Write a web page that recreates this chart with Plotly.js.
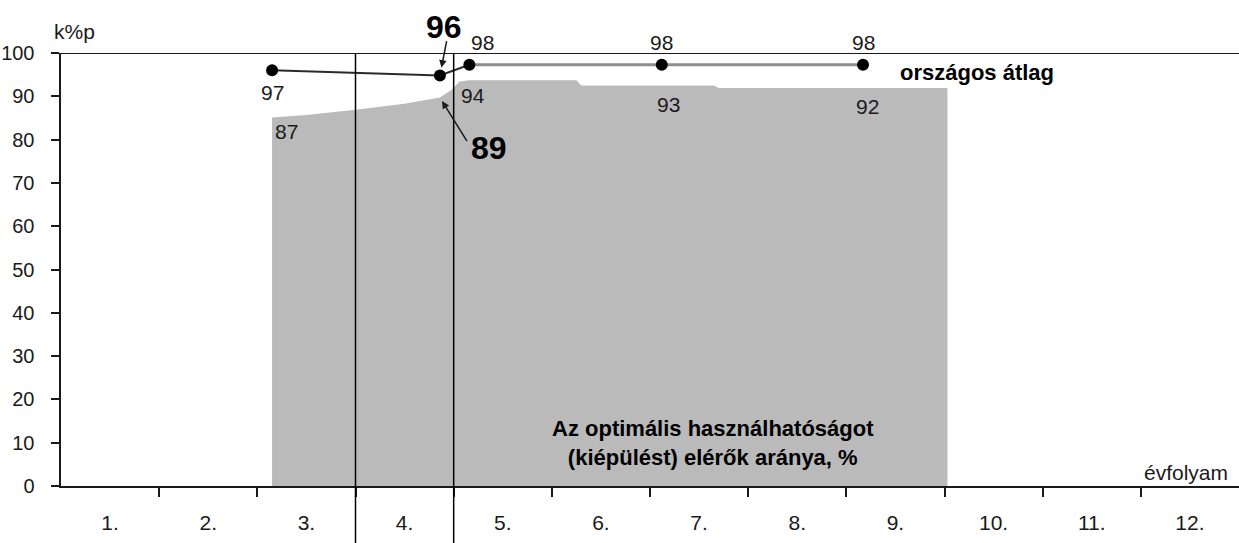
<!DOCTYPE html>
<html>
<head>
<meta charset="utf-8">
<script src="https://cdn.plot.ly/plotly-3.0.1.min.js"></script>
<style>
html,body{margin:0;padding:0;background:#fff;}
#chart{width:1239px;height:543px;}
</style>
</head>
<body>
<div id="chart"></div>
<script>
// ---- data ----
var gradeValues = [1,2,3,4,5,6,7,8,9,10,11,12];
var gradeLabels = ['1.','2.','3.','4.','5.','6.','7.','8.','9.','10.','11.','12.'];
var yTickValues = [0,10,20,30,40,50,60,70,80,90,100];

// share reaching optimal usability (grey area)
var areaX = [2.65, 3.0, 3.5, 4.0, 4.36, 4.48, 4.56, 4.66, 5.75, 5.8, 7.15, 7.2, 9.53];
var areaY = [85.1, 85.7, 86.9, 88.3, 89.7, 91.5, 93.4, 93.7, 93.7, 92.5, 92.5, 91.9, 91.9];
var areaLabelX = [2.80, 4.70, 6.69, 8.72];
var areaLabelText = ['87', '94', '93', '92'];

// national average (markers)
var avgX = [2.65, 4.36, 4.66, 6.62, 8.67];
var avgY = [96.0, 94.8, 97.3, 97.3, 97.3];
var avgLabels = ['97', '96', '98', '98', '98'];

var highlightLabel = '89';
var dividers = [3.5, 4.5];

// ---- styles ----
var SANS = '"Liberation Sans", Arial, sans-serif';
var INK = '#1a1a1a';

var traces = [
  {
    type: 'scatter', mode: 'lines', x: areaX, y: areaY,
    fill: 'tozeroy', fillcolor: '#bababa',
    line: {width: 0, color: '#bababa'}, hoverinfo: 'skip', showlegend: false
  },
  {
    type: 'scatter', mode: 'lines', x: avgX.slice(0,3), y: avgY.slice(0,3),
    line: {color: '#2a2a2a', width: 2}, hoverinfo: 'skip', showlegend: false
  },
  {
    type: 'scatter', mode: 'lines', x: avgX.slice(2), y: avgY.slice(2),
    line: {color: '#8e8e8e', width: 3}, hoverinfo: 'skip', showlegend: false
  },
  {
    type: 'scatter', mode: 'markers', x: avgX, y: avgY,
    marker: {color: '#000', size: 12}, hoverinfo: 'skip', showlegend: false
  }
];

var annotations = [];
// avg labels
avgLabels.forEach(function(t, i){
  if (i === 1) {
    annotations.push({
      x: avgX[i], y: avgY[i], xref: 'x', yref: 'y', text: '<b>' + t + '</b>',
      showarrow: false, yshift: 49, xshift: 4,
      font: {family: SANS, size: 32, color: '#000'}
    });
    annotations.push({
      x: avgX[i], y: avgY[i], xref: 'x', yref: 'y', text: '',
      showarrow: true, ax: 7, ay: -36, arrowhead: 2, arrowsize: 1, arrowwidth: 1.5,
      arrowcolor: INK, standoff: 8
    });
  } else {
    annotations.push({
      x: avgX[i], y: avgY[i], xref: 'x', yref: 'y', text: t, showarrow: false,
      yshift: i === 0 ? -22 : 22, xshift: i === 2 ? 13 : 0,
      font: {family: SANS, size: 21, color: INK}
    });
  }
});
// area labels
areaLabelText.forEach(function(t, i){
  var yv = [81.8, 90.3, 88.2, 87.6][i];
  annotations.push({
    x: areaLabelX[i], y: yv, xref: 'x', yref: 'y', text: t, showarrow: false,
    font: {family: SANS, size: 21, color: INK}
  });
});
// 89 label with arrow to the area edge
annotations.push({
  x: areaX[4], y: areaY[4], xref: 'x', yref: 'y', text: '<b>' + highlightLabel + '</b>',
  showarrow: false, xshift: 49, yshift: -50,
  font: {family: SANS, size: 32, color: '#000'}
});
annotations.push({
  x: areaX[4], y: areaY[4], xref: 'x', yref: 'y', text: '',
  showarrow: true, ax: 28, ay: 45, arrowhead: 2, arrowsize: 1, arrowwidth: 1.5,
  arrowcolor: INK, standoff: 4
});
// other texts
annotations.push({
  x: 0.7105, y: 0.956, xref: 'paper', yref: 'paper', xanchor: 'left', yanchor: 'middle',
  text: '<b>országos átlag</b>', showarrow: false,
  font: {family: SANS, size: 22, color: '#000'}
});
annotations.push({
  x: 0.5535, y: 0.099, xref: 'paper', yref: 'paper', xanchor: 'center', yanchor: 'middle',
  text: '<b>Az optimális használhatóságot<br>(kiépülést) elérők aránya, %</b>', showarrow: false,
  font: {family: SANS, size: 22, color: '#000'}
});
annotations.push({
  x: 0.9924, y: 0.032, xref: 'paper', yref: 'paper', xanchor: 'right', yanchor: 'middle',
  text: 'évfolyam', showarrow: false,
  font: {family: SANS, size: 21, color: INK}
});
annotations.push({
  x: -0.0076, y: 1.05, xref: 'paper', yref: 'paper', xanchor: 'left', yanchor: 'middle',
  text: 'k%p', showarrow: false,
  font: {family: SANS, size: 21, color: INK}
});

var shapes = dividers.map(function(d){
  return {type: 'line', xref: 'x', yref: 'paper', x0: d, x1: d, y0: -0.14, y1: 1,
          line: {color: '#000', width: 1.5}};
});
shapes.push({type: 'line', xref: 'paper', yref: 'y', x0: 0, x1: 1, y0: 100, y1: 100,
             line: {color: INK, width: 2}});

var boundaryTicks = gradeValues.slice(0, 11).map(function(v){ return v + 0.5; });

var layout = {
  width: 1239, height: 543,
  margin: {l: 61, r: 0, t: 53, b: 57, pad: 0},
  paper_bgcolor: '#fff', plot_bgcolor: '#fff',
  showlegend: false,
  xaxis: {
    range: [0.5, 12.5], showgrid: false, zeroline: false,
    showline: true, linecolor: INK, linewidth: 2,
    tickmode: 'array', tickvals: gradeValues, ticktext: gradeLabels,
    ticks: '', ticklabelstandoff: 17,
    tickfont: {family: SANS, size: 21, color: INK},
    minor: {tickmode: 'array', tickvals: boundaryTicks, ticks: 'outside', ticklen: 9,
            tickwidth: 2, tickcolor: INK, showgrid: false},
    fixedrange: true
  },
  yaxis: {
    range: [0, 100], showgrid: false, zeroline: false,
    showline: true, linecolor: INK, linewidth: 2.5,
    tickmode: 'array', tickvals: yTickValues,
    ticks: 'outside', ticklen: 8, tickwidth: 2, tickcolor: INK,
    ticklabelstandoff: 12,
    tickfont: {family: SANS, size: 20, color: INK},
    fixedrange: true
  },
  annotations: annotations,
  shapes: shapes
};

Plotly.newPlot('chart', traces, layout, {displayModeBar: false, staticPlot: true});
</script>
</body>
</html>
